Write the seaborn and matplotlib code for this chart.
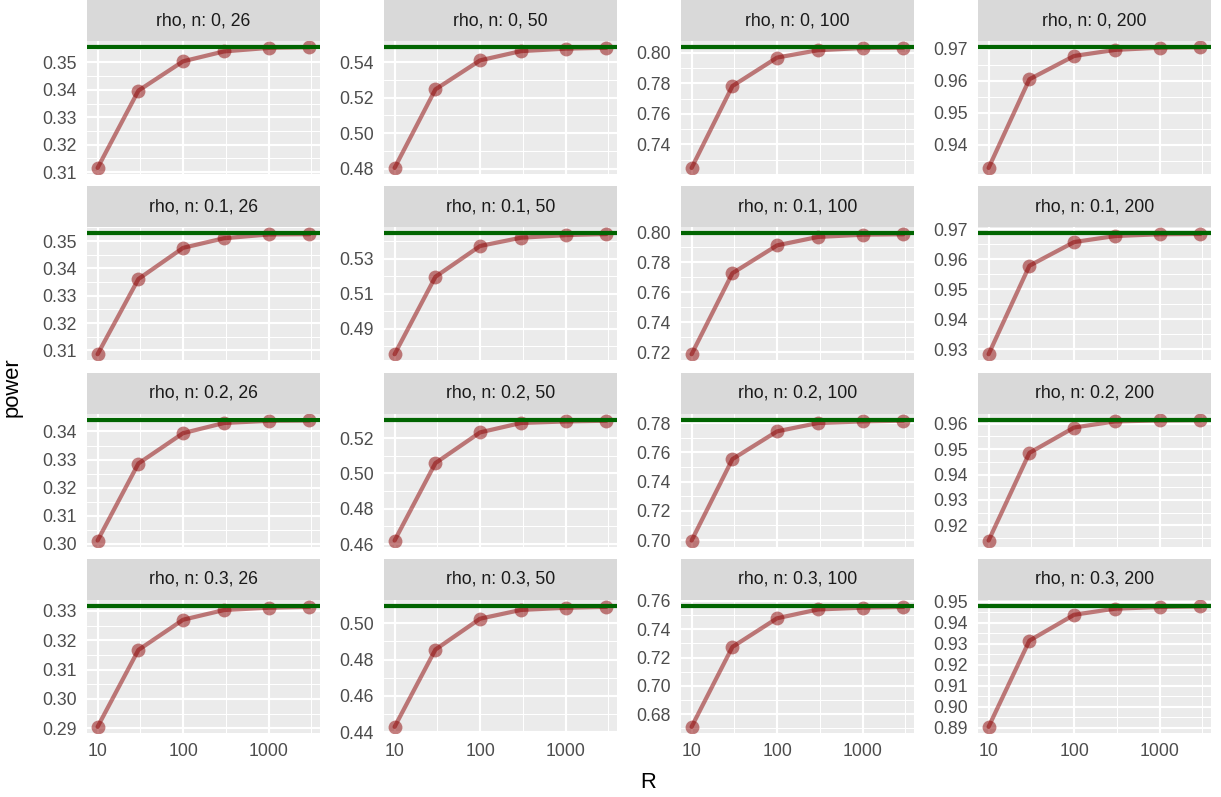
import numpy as np
import pandas as pd
import matplotlib
matplotlib.use("Agg")
import matplotlib.pyplot as plt
from matplotlib.ticker import NullFormatter
import seaborn as sns

# replications R on the x axis (log scale)
R = [10, 30, 100, 300, 1000, 3000]
rho_labels = ["0", "0.1", "0.2", "0.3"]
n_values = [26, 50, 100, 200]

# power for each n (26, 50, 100, 200), one list per rho
power_rho0 = [
    [0.3115, 0.3397, 0.3504, 0.3540, 0.3553, 0.3555],
    [0.4804, 0.5247, 0.5411, 0.5463, 0.5477, 0.5482],
    [0.7246, 0.7783, 0.7970, 0.8018, 0.8033, 0.8035],
    [0.9327, 0.9605, 0.9678, 0.9697, 0.9704, 0.9705],
]
power_rho1 = [
    [0.3086, 0.3361, 0.3475, 0.3510, 0.3524, 0.3525],
    [0.4755, 0.5197, 0.5373, 0.5420, 0.5435, 0.5441],
    [0.7187, 0.7727, 0.7913, 0.7969, 0.7984, 0.7987],
    [0.9283, 0.9578, 0.9657, 0.9677, 0.9683, 0.9684],
]
power_rho2 = [
    [0.3012, 0.3286, 0.3394, 0.3430, 0.3438, 0.3439],
    [0.4620, 0.5058, 0.5232, 0.5285, 0.5294, 0.5298],
    [0.6997, 0.7553, 0.7743, 0.7800, 0.7811, 0.7816],
    [0.9140, 0.9485, 0.9585, 0.9609, 0.9613, 0.9614],
]
power_rho3 = [
    [0.2905, 0.3167, 0.3270, 0.3303, 0.3311, 0.3314],
    [0.4430, 0.4855, 0.5025, 0.5073, 0.5085, 0.5090],
    [0.6710, 0.7275, 0.7478, 0.7540, 0.7553, 0.7558],
    [0.8905, 0.9315, 0.9438, 0.9467, 0.9475, 0.9478],
]
power_all = [power_rho0, power_rho1, power_rho2, power_rho3]

# limiting power (green line)
limit_rho0 = [0.3556, 0.5486, 0.8039, 0.9706]
limit_rho1 = [0.3528, 0.5445, 0.7993, 0.9686]
limit_rho2 = [0.3442, 0.5304, 0.7823, 0.9616]
limit_rho3 = [0.3317, 0.5095, 0.7565, 0.9480]
limit_all = [limit_rho0, limit_rho1, limit_rho2, limit_rho3]

# y tick labels per panel
yticks_rho0 = [[0.31, 0.32, 0.33, 0.34, 0.35], [0.48, 0.50, 0.52, 0.54],
               [0.74, 0.76, 0.78, 0.80], [0.94, 0.95, 0.96, 0.97]]
yticks_rho1 = [[0.31, 0.32, 0.33, 0.34, 0.35], [0.49, 0.51, 0.53],
               [0.72, 0.74, 0.76, 0.78, 0.80], [0.93, 0.94, 0.95, 0.96, 0.97]]
yticks_rho2 = [[0.30, 0.31, 0.32, 0.33, 0.34], [0.46, 0.48, 0.50, 0.52],
               [0.70, 0.72, 0.74, 0.76, 0.78], [0.92, 0.93, 0.94, 0.95, 0.96]]
yticks_rho3 = [[0.29, 0.30, 0.31, 0.32, 0.33], [0.44, 0.46, 0.48, 0.50],
               [0.68, 0.70, 0.72, 0.74, 0.76], [0.89, 0.90, 0.91, 0.92, 0.93, 0.94, 0.95]]
yticks_all = [yticks_rho0, yticks_rho1, yticks_rho2, yticks_rho3]
xticks = [10, 100, 1000]

sns.set_style("white")
plt.rcParams["font.family"] = ["Liberation Sans", "DejaVu Sans"]

W, H, DPI = 1221, 797, 144
fig = plt.figure(figsize=(W / DPI, H / DPI), dpi=DPI)


def px_axes(x, y, w, h):
    return fig.add_axes([x / W, 1 - (y + h) / H, w / W, h / H])


line_col = "#8B0000"
panel_w, panel_h, strip_h = 233, 133, 41

lx0, lx1 = np.log10(R[0]), np.log10(R[-1])
xlim = (10 ** (lx0 - 0.05 * (lx1 - lx0)), 10 ** (lx1 + 0.05 * (lx1 - lx0)))

for i, rho in enumerate(rho_labels):
    for j, n in enumerate(n_values):
        left = 87 + 297 * j
        top = 186.3 * i

        # strip
        sax = px_axes(left, top, panel_w, strip_h)
        sax.set_facecolor("#D9D9D9")
        sax.set_xticks([])
        sax.set_yticks([])
        for s in sax.spines.values():
            s.set_visible(False)
        sax.text(0.5, 0.5, f"rho, n: {rho}, {n}", ha="center", va="center",
                 fontsize=8.8, color="#1A1A1A", transform=sax.transAxes)

        ax = px_axes(left, top + strip_h, panel_w, panel_h)
        ax.set_facecolor("#EBEBEB")
        for s in ax.spines.values():
            s.set_visible(False)

        df = pd.DataFrame({"R": R, "power": power_all[i][j]})
        h = limit_all[i][j]
        sns.lineplot(data=df, x="R", y="power", ax=ax, color=line_col, alpha=0.5,
                     lw=2.1, zorder=3)
        sns.scatterplot(data=df, x="R", y="power", ax=ax, color=line_col, alpha=0.5,
                        s=48, linewidth=0, zorder=4)
        ax.axhline(h, color="#006400", lw=2.1, zorder=5)

        ax.set_xscale("log")
        ax.set_xlim(*xlim)
        lo = min(min(power_all[i][j]), h)
        hi = max(max(power_all[i][j]), h)
        ax.set_ylim(lo - 0.05 * (hi - lo), hi + 0.05 * (hi - lo))

        yt = yticks_all[i][j]
        step = yt[1] - yt[0]
        ymin_ = [t + step / 2 for t in [yt[0] - step] + yt]
        ymin_ = [t for t in ymin_ if lo - 0.05 * (hi - lo) < t < hi + 0.05 * (hi - lo)]
        ax.set_yticks(yt)
        ax.set_yticklabels([f"{t:.2f}" for t in yt])
        ax.set_yticks(ymin_, minor=True)
        ax.set_xticks(xticks)
        ax.set_xticklabels([str(t) for t in xticks])
        ax.set_xticks([10 ** 1.5, 10 ** 2.5, 10 ** 3.5], minor=True)
        ax.xaxis.set_minor_formatter(NullFormatter())

        ax.grid(which="major", color="white", lw=1.07, zorder=0)
        ax.grid(which="minor", color="white", lw=0.53, zorder=0)
        ax.set_axisbelow(True)
        ax.tick_params(which="minor", length=0)
        ax.tick_params(axis="both", which="major", length=2.75, width=1.07,
                       color="#333333", labelsize=8.8, labelcolor="#4D4D4D", pad=2.2)
        if i < 3:
            ax.tick_params(axis="x", which="major", length=0, labelbottom=False)
        ax.set_xlabel("")
        ax.set_ylabel("")

fig.text(648 / W, 1 - 783 / H, "R", ha="center", va="center", fontsize=11, color="black")
fig.text(12 / W, 1 - 387 / H, "power", ha="center", va="center", rotation=90,
         fontsize=11, color="black")

fig.savefig("out.png", dpi=DPI)
